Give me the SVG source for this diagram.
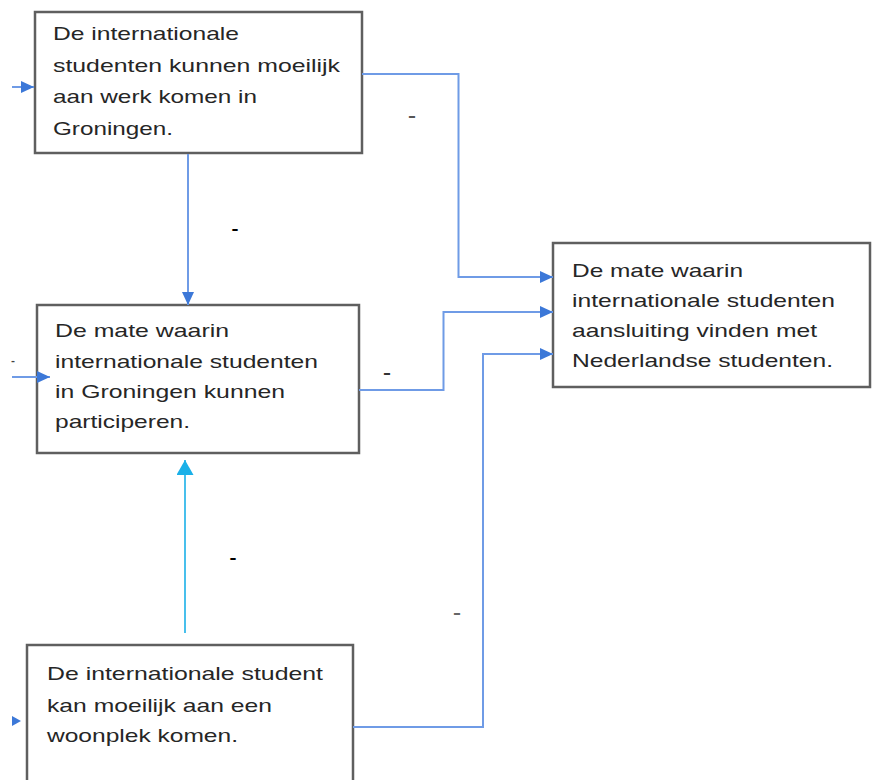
<svg xmlns="http://www.w3.org/2000/svg" width="872" height="780" viewBox="0 0 872 780">
<style>
.box{fill:#fff;stroke:#5f5f5f;stroke-width:2.5}
.t{font-family:"Liberation Sans",Arial,sans-serif;font-size:19px;fill:#262626}
.ln{fill:none;stroke:#6f9be6;stroke-width:2}
.lb{fill:none;stroke:#1ab0e8;stroke-width:1.6}
.m{font-family:"Liberation Sans",Arial,sans-serif;font-size:17px;font-weight:bold;text-anchor:middle}
</style>
<defs>
<marker id="ah" markerUnits="userSpaceOnUse" markerWidth="14" markerHeight="12" refX="13" refY="6" orient="auto">
<path d="M0,0 L13,6 L0,12 Z" fill="#3c78d8"/>
</marker>
<marker id="ahc" markerUnits="userSpaceOnUse" markerWidth="16" markerHeight="18" refX="15" refY="8.5" orient="auto">
<path d="M0,0 L15,8.5 L0,17 Z" fill="#1ab0e8"/>
</marker>
</defs>
<g id="node1">
<rect class="box" x="35" y="12" width="327" height="141"/>
<text class="t" x="53" y="40" textLength="186" lengthAdjust="spacingAndGlyphs">De internationale</text>
<text class="t" x="53" y="72" textLength="287" lengthAdjust="spacingAndGlyphs">studenten kunnen moeilijk</text>
<text class="t" x="53" y="103" textLength="204" lengthAdjust="spacingAndGlyphs">aan werk komen in</text>
<text class="t" x="53" y="135" textLength="120" lengthAdjust="spacingAndGlyphs">Groningen.</text>
</g>
<g id="node2">
<rect class="box" x="37" y="305" width="322" height="148"/>
<text class="t" x="55" y="337" textLength="174" lengthAdjust="spacingAndGlyphs">De mate waarin</text>
<text class="t" x="55" y="368" textLength="263" lengthAdjust="spacingAndGlyphs">internationale studenten</text>
<text class="t" x="55" y="398" textLength="230" lengthAdjust="spacingAndGlyphs">in Groningen kunnen</text>
<text class="t" x="55" y="428" textLength="135" lengthAdjust="spacingAndGlyphs">participeren.</text>
</g>
<g id="node3">
<rect class="box" x="27" y="645" width="326" height="150"/>
<text class="t" x="47" y="680" textLength="276" lengthAdjust="spacingAndGlyphs">De internationale student</text>
<text class="t" x="47" y="712" textLength="225" lengthAdjust="spacingAndGlyphs">kan moeilijk aan een</text>
<text class="t" x="47" y="742" textLength="191" lengthAdjust="spacingAndGlyphs">woonplek komen.</text>
</g>
<g id="node4">
<rect class="box" x="553" y="243" width="317" height="144"/>
<text class="t" x="572" y="277" textLength="171" lengthAdjust="spacingAndGlyphs">De mate waarin</text>
<text class="t" x="572" y="307" textLength="263" lengthAdjust="spacingAndGlyphs">internationale studenten</text>
<text class="t" x="572" y="337" textLength="245" lengthAdjust="spacingAndGlyphs">aansluiting vinden met</text>
<text class="t" x="572" y="367" textLength="261" lengthAdjust="spacingAndGlyphs">Nederlandse studenten.</text>
</g>
<g id="connectors">
<path class="ln" d="M362,74 H458.5 V277 H553" marker-end="url(#ah)"/>
<path class="ln" d="M359,390 H443.5 V312 H553" marker-end="url(#ah)"/>
<path class="ln" d="M353,727 H483 V354 H553" marker-end="url(#ah)"/>
<path class="ln" d="M188,154 V305" marker-end="url(#ah)"/>
<path class="lb" d="M185,633 V460" marker-end="url(#ahc)"/>
<path class="ln" d="M12,87 H34" marker-end="url(#ah)"/>
<path class="ln" d="M12,377 H50" marker-end="url(#ah)"/>
<path d="M12,716 L21,721 L12,726 Z" fill="#3c78d8"/>
</g>
<g id="labels">
<text class="m" x="412" y="121" fill="#555" textLength="8" lengthAdjust="spacingAndGlyphs">-</text>
<text class="m" x="235" y="234" fill="#000" textLength="7" lengthAdjust="spacingAndGlyphs">-</text>
<text class="m" x="387" y="378" fill="#333" textLength="8" lengthAdjust="spacingAndGlyphs">-</text>
<text class="m" x="233" y="563" fill="#000" textLength="7" lengthAdjust="spacingAndGlyphs">-</text>
<text class="m" x="457" y="618" fill="#666" textLength="8" lengthAdjust="spacingAndGlyphs">-</text>
<text class="m" x="13" y="366" fill="#444" textLength="4" lengthAdjust="spacingAndGlyphs" style="font-weight:normal">-</text>
</g>
</svg>
